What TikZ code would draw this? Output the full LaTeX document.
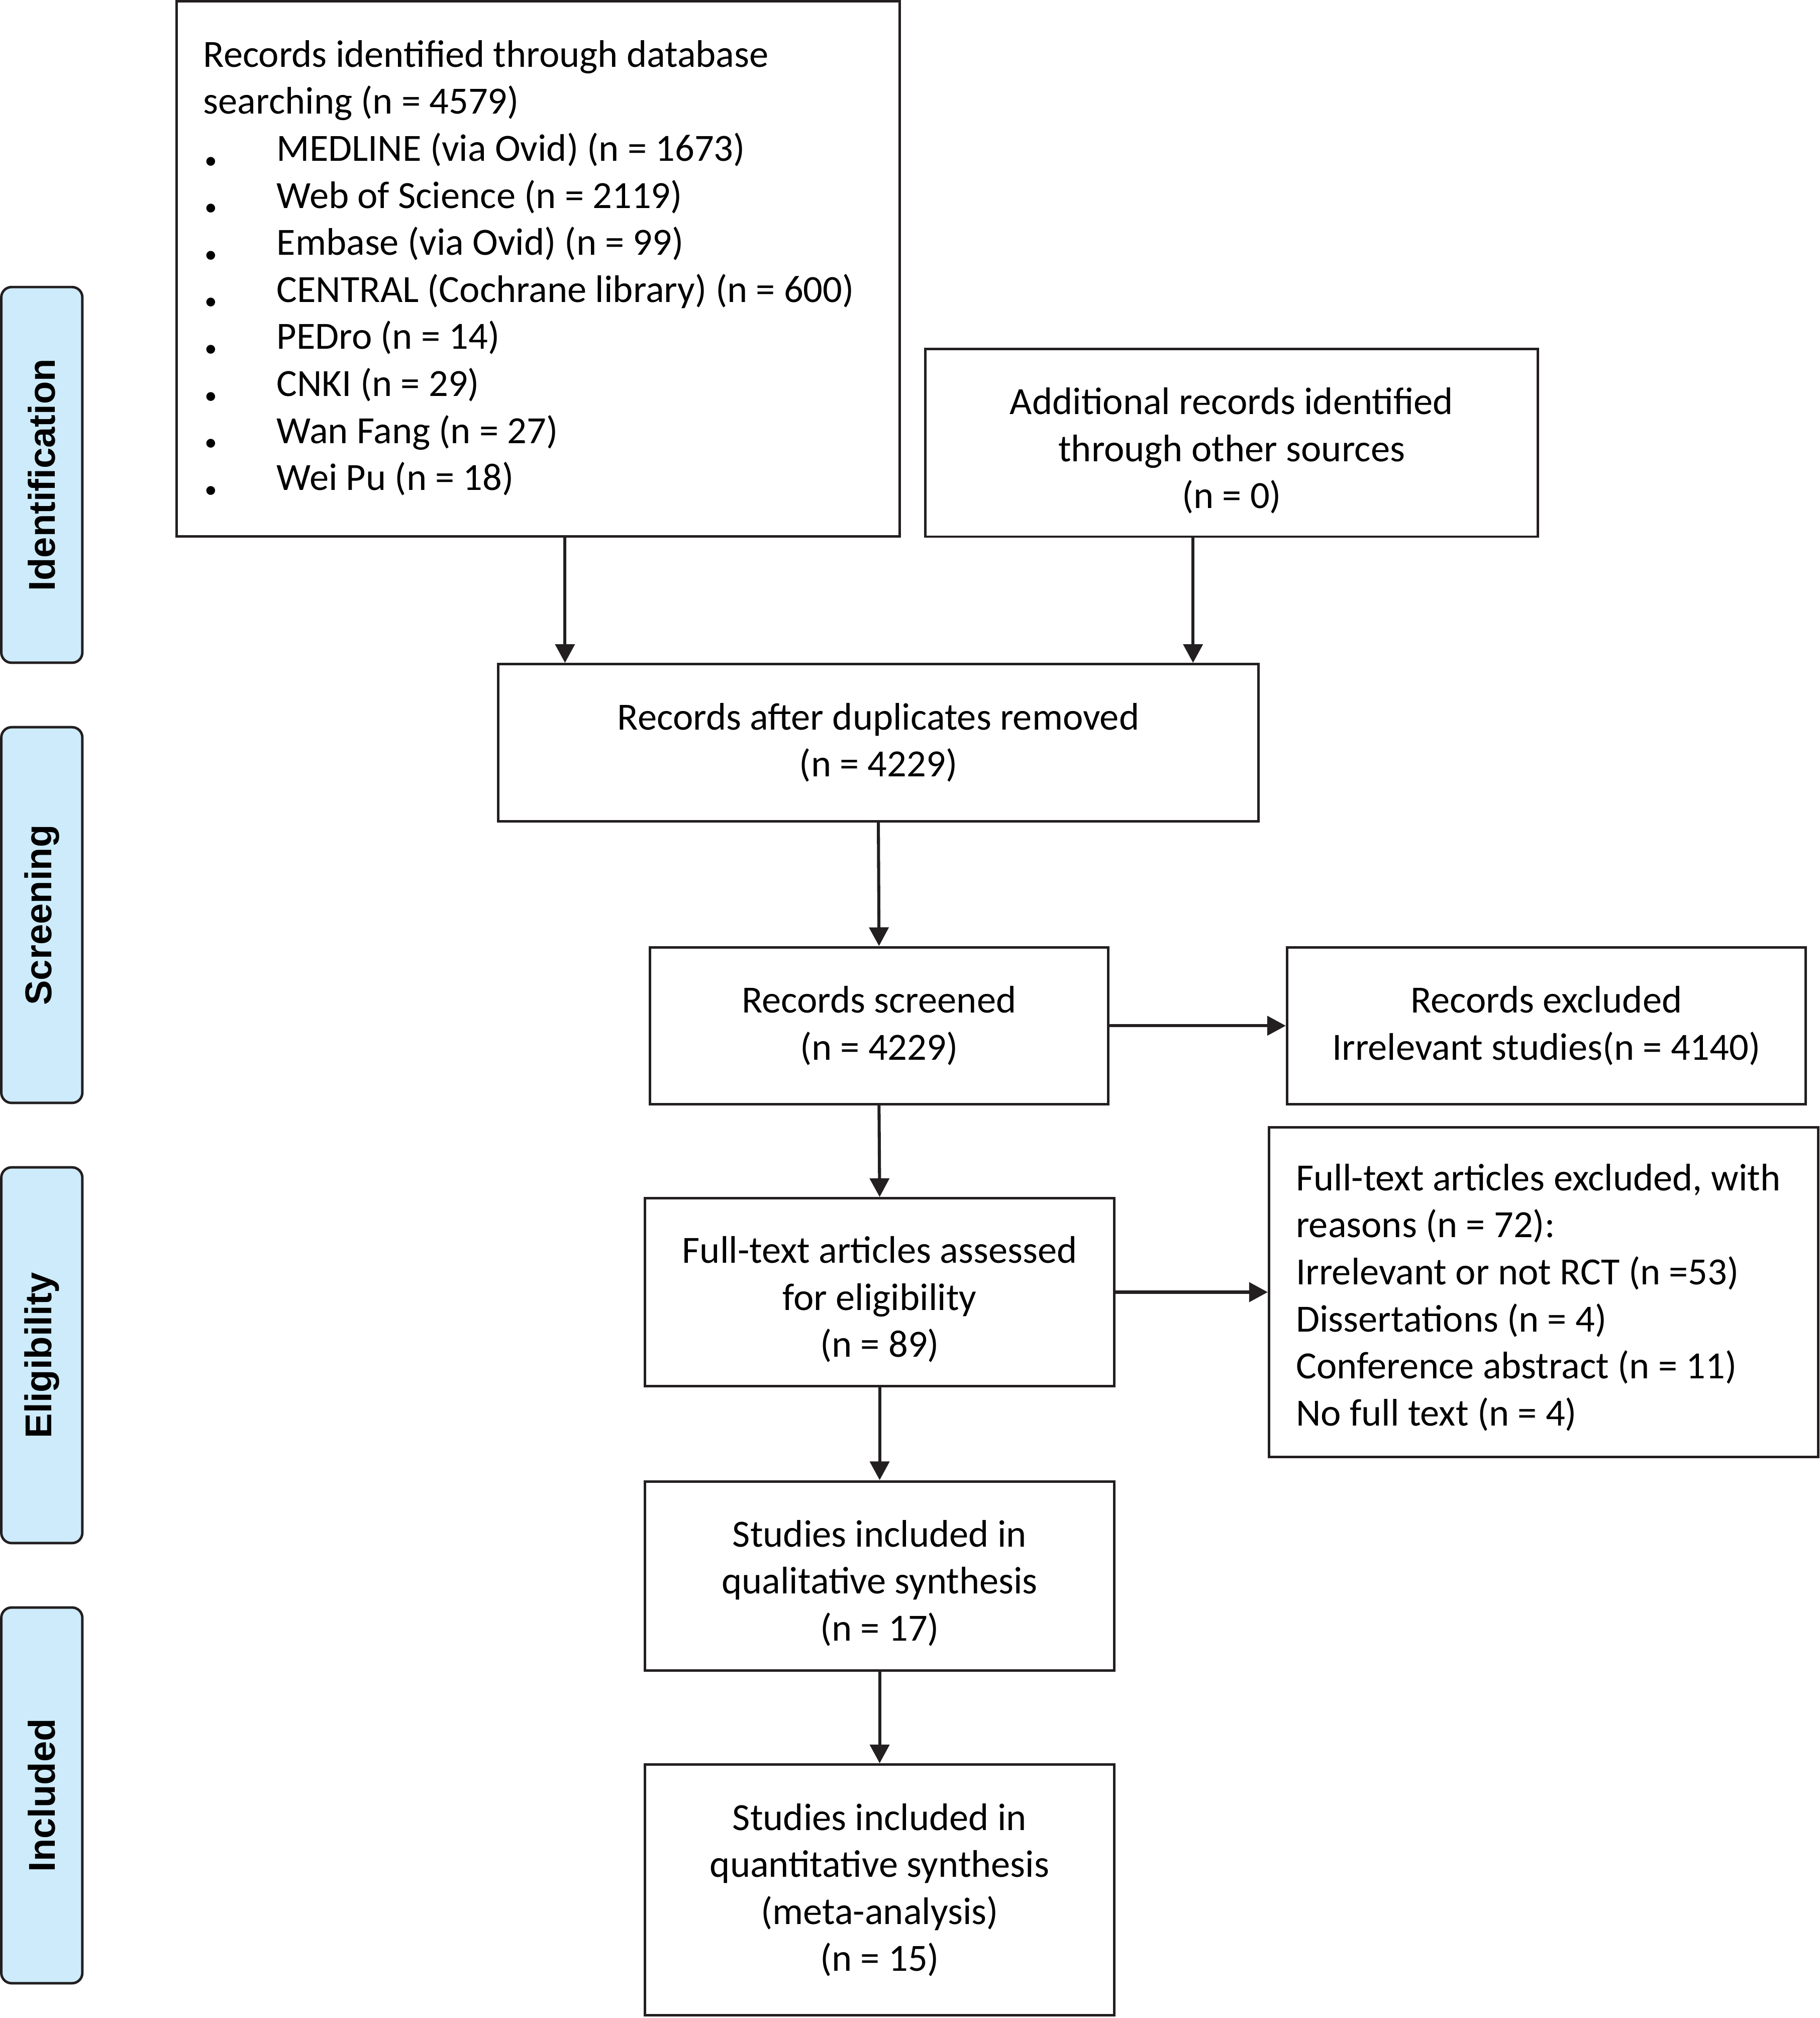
\documentclass[tikz,border=0pt]{standalone}
\usepackage{fontspec}
\setmainfont{Carlito}
\newfontfamily\stagefont{Liberation Sans}
\usepackage{xcolor}
\usetikzlibrary{arrows.meta}
\definecolor{stageblue}{HTML}{CDEBFA}
\definecolor{linegray}{HTML}{231F20}
\begin{document}
\begin{tikzpicture}[x=0.02cm, y=-0.02cm, font=\fontsize{17}{20.8}\selectfont]
	\tikzstyle{box}=[draw=linegray, line width=1.1pt, align=center, inner sep=0pt]
	\tikzstyle{leftbox}=[box, align=flush left, inner xsep=0.42cm]
	\tikzstyle{stage}=[draw=linegray, line width=1.1pt, fill=stageblue, rounded corners=0.16cm, minimum width=1.26cm, minimum height=5.84cm, inner sep=0pt]
	\tikzstyle{arr}=[draw=linegray, line width=1.35pt, -{Triangle[length=0.29cm,width=0.3cm]}]
	\newcommand{\bul}{\makebox[1.14cm][l]{\hspace{0.02cm}\raisebox{-0.4ex}{\fontsize{11}{11}\selectfont\textbullet}}}
	\newcommand{\lowr}[1]{\rule{0pt}{#1}}
	\useasboundingbox (0,0) rectangle (1414,1568);

	% stages
	\node[stage] (sid) at (32.5,369) {};
	\node[stage] (sscr) at (32.5,711) {};
	\node[stage] (selig) at (32.5,1053) {};
	\node[stage] (sinc) at (32.5,1395) {};
	\foreach \n/\t in {sid/Identification, sscr/Screening, selig/Eligibility, sinc/Included}
		\node[rotate=90, font=\stagefont\bfseries\fontsize{16.5}{18}\selectfont] at (\n) {\t};

	% boxes
	\node[leftbox, minimum width=11.24cm, minimum height=8.32cm, text width=10.4cm] (db) at (418,209)
		{Records identified through database\\ searching (n = 4579)\\
		\bul MEDLINE (via Ovid) (n = 1673)\\
		\bul Web of Science (n = 2119)\\
		\bul Embase (via Ovid) (n = 99)\\
		\bul CENTRAL (Cochrane library) (n = 600)\\
		\bul PEDro (n = 14)\\
		\bul CNKI (n = 29)\\
		\bul Wan Fang (n = 27)\\
		\bul Wei Pu (n = 18)\vphantom{\rule{0pt}{0.16cm}}};
	\node[box, minimum width=9.52cm, minimum height=2.92cm] (oth) at (957,344)
		{\lowr{0.66cm}Additional records identified\\ through other sources\\ (n = 0)};
	\node[box, minimum width=11.82cm, minimum height=2.44cm] (dup) at (682.5,577)
		{Records after duplicates removed\\ (n = 4229)};
	\node[box, minimum width=7.12cm, minimum height=2.44cm] (scr) at (683,797)
		{Records screened\\ (n = 4229)};
	\node[box, minimum width=8.06cm, minimum height=2.44cm] (ex1) at (1201.5,797)
		{Records excluded\\ Irrelevant studies(n = 4140)};
	\node[box, minimum width=7.3cm, minimum height=2.92cm] (full) at (683.5,1004)
		{\lowr{0.64cm}Full-text articles assessed\\ for eligibility\\ (n = 89)};
	\node[leftbox, minimum width=8.54cm, minimum height=5.12cm, text width=7.7cm] (ex2) at (1199.5,1004)
		{\lowr{0.58cm}Full-text articles excluded, with\\ reasons (n = 72):\\ Irrelevant or not RCT (n =53)\\
		Dissertations (n = 4)\\ Conference abstract (n = 11)\\ No full text (n = 4)};
	\node[box, minimum width=7.3cm, minimum height=2.94cm] (qual) at (683.5,1224.5)
		{\lowr{0.64cm}Studies included in\\ qualitative synthesis\\ (n = 17)};
	\node[box, minimum width=7.3cm, minimum height=3.9cm] (quant) at (683.5,1468.5)
		{Studies included in\\ quantitative synthesis\\ (meta-analysis)\\ (n = 15)};

	% arrows
	\coordinate (xl) at (439,0);
	\coordinate (xr) at (927,0);
	\draw[arr] (xl |- db.south) -- (xl |- dup.north);
	\draw[arr] (xr |- oth.south) -- (xr |- dup.north);
	\draw[arr] (dup.south) -- (scr.north);
	\draw[arr] (scr.east) -- (ex1.west);
	\draw[arr] (scr.south) -- (full.north);
	\draw[arr] (full.east) -- (ex2.west);
	\draw[arr] (full.south) -- (qual.north);
	\draw[arr] (qual.south) -- (quant.north);
\end{tikzpicture}
\end{document}
